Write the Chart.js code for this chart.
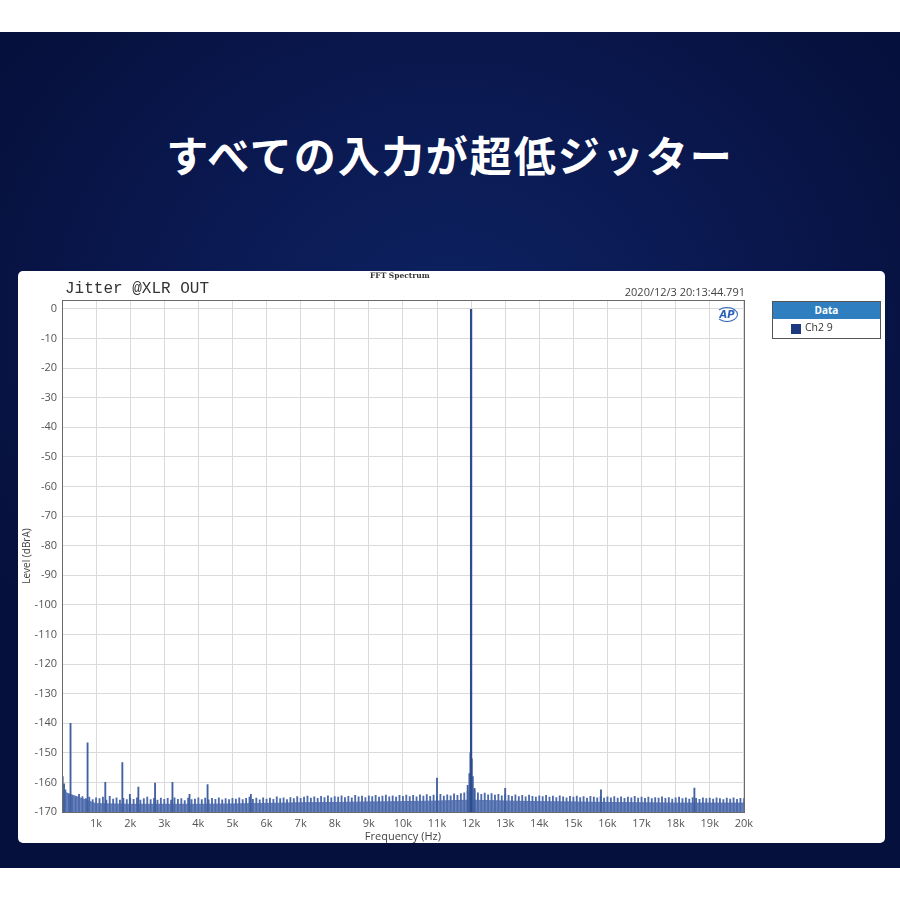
<!DOCTYPE html>
<html>
<head>
<meta charset="utf-8">
<script src="https://cdn.jsdelivr.net/npm/chart.js@4.4.1/dist/chart.umd.min.js"></script>
<style>
  html, body { margin:0; padding:0; background:#fff; }
  #page { position:relative; width:900px; height:900px; overflow:hidden; background:#fff; }
  #navy { position:absolute; left:0; top:32px; width:900px; height:836px;
    background: radial-gradient(ellipse 60% 55% at 50% 35%, #0d2262 0%, #0a184f 55%, #06103c 100%); }
  #head { position:absolute; left:0; top:125px; width:900px; text-align:center; color:#fff;
    font-family:"Noto Sans CJK JP", sans-serif; font-weight:700; font-size:42px; letter-spacing:2px; line-height:58px; }
  #panel { position:absolute; left:18px; top:271px; width:867px; height:572px; background:#fff; border-radius:5px; }
  #wrap { position:absolute; left:18px; top:271px; width:740px; height:572px; }
  .txt { position:absolute; white-space:nowrap; }
  #fft { left:370px; top:271px; font-family:"DejaVu Serif", serif; font-weight:700; font-size:7.5px; color:#333; }
  #jit { left:65px; top:280px; font-family:"Liberation Mono", monospace; font-size:16px; color:#333; }
  #stamp { right:155px; top:284px; font-family:"Open Sans", sans-serif; font-size:11px; color:#444; }
  #ap { left:716px; top:307px; width:20px; height:13px; border:1.5px solid #2b62b8; border-left-color:transparent;
    border-radius:50%; font-family:"DejaVu Sans", sans-serif; font-style:italic; font-weight:700; font-size:10px;
    color:#2b62b8; line-height:13px; text-align:center; }
  #legend { position:absolute; left:772px; top:301px; width:107px; height:36px; border:1px solid #555; background:#fff; }
  #legend .hd { height:17px; background:#2f7fc0; color:#fff; font-family:"Open Sans", sans-serif; font-weight:700;
    font-size:10px; line-height:17px; text-align:center; }
  #legend .row { position:relative; height:19px; font-family:"Open Sans", sans-serif; font-size:10.5px; color:#333; }
  #legend .sw { position:absolute; left:18px; top:5px; width:10px; height:10px; background:#1d3a80; }
  #legend .lb { position:absolute; left:32px; top:1px; }
</style>
</head>
<body>
<div id="page">
  <div id="navy"></div>
  <div id="head">すべての入力が超低ジッター</div>
  <div id="panel"></div>
  <div id="wrap"><canvas id="fftChart" width="740" height="572"></canvas></div>
  <div class="txt" id="fft">FFT Spectrum</div>
  <div class="txt" id="jit">Jitter @XLR OUT</div>
  <div class="txt" id="stamp">2020/12/3 20:13:44.791</div>
  <div class="txt" id="ap">AP</div>
  <div id="legend">
    <div class="hd">Data</div>
    <div class="row"><div class="sw"></div><div class="lb">Ch2 9</div></div>
  </div>
</div>
<script>
// ===============================
// DATA
// ===============================
const xTickValues = [0,1000,2000,3000,4000,5000,6000,7000,8000,9000,10000,11000,12000,13000,14000,15000,16000,17000,18000,19000,20000];
const xTickLabels = ['','1k','2k','3k','4k','5k','6k','7k','8k','9k','10k','11k','12k','13k','14k','15k','16k','17k','18k','19k','20k'];
const yTickValues = [0,-10,-20,-30,-40,-50,-60,-70,-80,-90,-100,-110,-120,-130,-140,-150,-160,-170];

// solid part of the noise floor (dBrA), one value per kHz
const baseFreqs = [0,1000,2000,3000,4000,5000,6000,7000,8000,9000,10000,11000,12000,13000,14000,15000,16000,17000,18000,19000,20000];
const baseLevels = [-163,-167.2,-167.4,-167.4,-167.4,-167.3,-167.1,-166.9,-166.8,-166.6,-166.5,-166.3,-166,-166.3,-166.5,-166.6,-166.8,-166.9,-167,-167,-167];

// noise tops, FFT bins every 100 Hz, one row per kHz (100..1000, 1100..2000, ...)
const binStep = 100;
const noiseTops = [
  [-162.5,-164,-164.5,-165,-164,-164.8,-165.5,-165,-165.8,-165.2],
  [-165.5,-165,-166,-164.7,-165.6,-165.2,-166,-165.4,-165.8,-165.3],
  [-165.7,-165.2,-166,-165.5,-165,-165.8,-165.4,-166,-165.3,-165.7],
  [-165.4,-166,-165.2,-165.7,-165.5,-166.1,-165.3,-165.8,-165.6,-165.2],
  [-165.8,-165.3,-165.9,-165.4,-165.7,-165.2,-165.9,-165.5,-165.8,-165.4],
  [-165.6,-165.2,-165.8,-165.4,-165,-165.7,-165.3,-165.9,-165.2,-165.6],
  [-165.3,-165.7,-164.9,-165.5,-165.2,-165.8,-165.1,-165.5,-164.8,-165.4],
  [-165,-164.6,-165.3,-164.9,-165.4,-164.7,-165.1,-164.5,-165.2,-164.8],
  [-165,-164.5,-165.1,-164.7,-165.2,-164.4,-164.9,-164.6,-165.1,-164.5],
  [-164.8,-164.4,-165,-164.6,-164.3,-164.9,-164.5,-165,-164.4,-164.7],
  [-164.3,-164.8,-164.4,-164.9,-164.2,-164.6,-164.1,-164.7,-164.3,-164.5],
  [-164,-164.6,-164.2,-164.5,-163.9,-164.4,-163.8,-163.5,-163,-170],
  [-162.5,-163.5,-164,-163.6,-164.2,-163.8,-164.3,-164,-164.5,-164.1],
  [-164.4,-164.7,-164.2,-164.8,-164.4,-164.9,-164.3,-164.7,-165,-164.5],
  [-164.8,-164.4,-165,-164.6,-165.1,-164.5,-164.9,-165.2,-164.7,-165],
  [-164.6,-165.1,-164.8,-165.3,-164.7,-165,-165.2,-164.8,-165.3,-164.9],
  [-165.2,-164.8,-165.3,-164.9,-165.4,-165,-165.2,-164.7,-165.3,-165],
  [-165.4,-165,-165.5,-165.1,-165.3,-164.9,-165.4,-165.1,-165.6,-165.2],
  [-165,-165.5,-165.2,-165.6,-165.1,-165.4,-165.7,-165.2,-165.5,-165.3],
  [-165.6,-165.2,-165.5,-165.8,-165.3,-165.6,-165.2,-165.7,-165.4,-165.5]
];

// harmonics / spurs
const spurFreqs  = [20,60,250,750,1270,1770,1990,2240,2730,3240,3740,4270,5540,11000,11900,11950,11980,12020,12050,12100,13000,15810,18550];
const spurLevels = [-158,-160.5,-140,-146.6,-160,-153.3,-164,-161.6,-160.2,-160,-164,-160.7,-164,-158.5,-161,-157,-150,-152,-158,-162,-162,-162.5,-161.9];

// test tone
const toneFreq = 12000;
const toneLevel = 0;

const FLOOR = -170;

// ===============================
// DATASETS
// ===============================
const noiseData = [];
noiseTops.forEach((row, k) => row.forEach((v, i) => {
  noiseData.push({ x: k * 1000 + (i + 1) * binStep, y: [FLOOR, v] });
}));
const baseData = baseFreqs.map((f, i) => ({ x: f, y: baseLevels[i] }));
const spurData = spurFreqs.map((f, i) => ({ x: f, y: [FLOOR, spurLevels[i]] }));
const toneData = [{ x: toneFreq, y: [FLOOR, toneLevel] }];

// frame round the plot area
const frame = {
  id: 'frame',
  afterDraw(chart) {
    const a = chart.chartArea, c = chart.ctx;
    c.save();
    c.strokeStyle = '#6a6a6a';
    c.lineWidth = 1;
    c.strokeRect(Math.round(a.left) + 0.5, Math.round(a.top) + 0.5, Math.round(a.right - a.left), Math.round(a.bottom - a.top));
    c.restore();
  }
};

const tickFont = { family: '"Open Sans", sans-serif', size: 11 };

new Chart(document.getElementById('fftChart').getContext('2d'), {
  type: 'bar',
  data: {
    datasets: [
      { type: 'line', data: baseData, borderColor: '#6079b6', borderWidth: 1, pointRadius: 0,
        backgroundColor: '#6a83bd', fill: { value: FLOOR }, tension: 0, order: 4 },
      { data: noiseData, backgroundColor: '#4d6aab', barThickness: 1.2, grouped: false, order: 3 },
      { data: spurData, backgroundColor: '#41609f', barThickness: 1.2, grouped: false, order: 2 },
      { data: toneData, backgroundColor: '#2d4c8e', barThickness: 1.6, grouped: false, order: 1 }
    ]
  },
  options: {
    responsive: false,
    animation: false,
    layout: { padding: { top: 29, right: 12, left: 0, bottom: 0 } },
    plugins: { legend: { display: false }, tooltip: { enabled: false } },
    scales: {
      x: {
        type: 'linear', min: 0, max: 20000, offset: false,
        afterBuildTicks(s) { s.ticks = xTickValues.map(v => ({ value: v })); },
        afterFit(s) { s.height = 31; },
        ticks: { autoSkip: false, maxRotation: 0, padding: 5, color: '#555', font: tickFont,
          callback: (v) => xTickLabels[xTickValues.indexOf(v)] },
        grid: { color: '#dadada', drawTicks: false, offset: false },
        border: { display: false },
        title: { display: true, text: 'Frequency (Hz)', color: '#444', font: tickFont, padding: 0 }
      },
      y: {
        min: -170, max: 3,
        afterBuildTicks(s) { s.ticks = yTickValues.map(v => ({ value: v })); },
        afterFit(s) { s.width = 44; },
        ticks: { padding: 5, color: '#555', font: tickFont },
        grid: { color: '#dadada', drawTicks: false },
        border: { display: false },
        title: { display: true, text: 'Level (dBrA)', color: '#444', font: { family: '"Open Sans", sans-serif', size: 10 }, padding: { top: 3, bottom: 0 } }
      }
    }
  },
  plugins: [frame]
});
</script>
</body>
</html>
